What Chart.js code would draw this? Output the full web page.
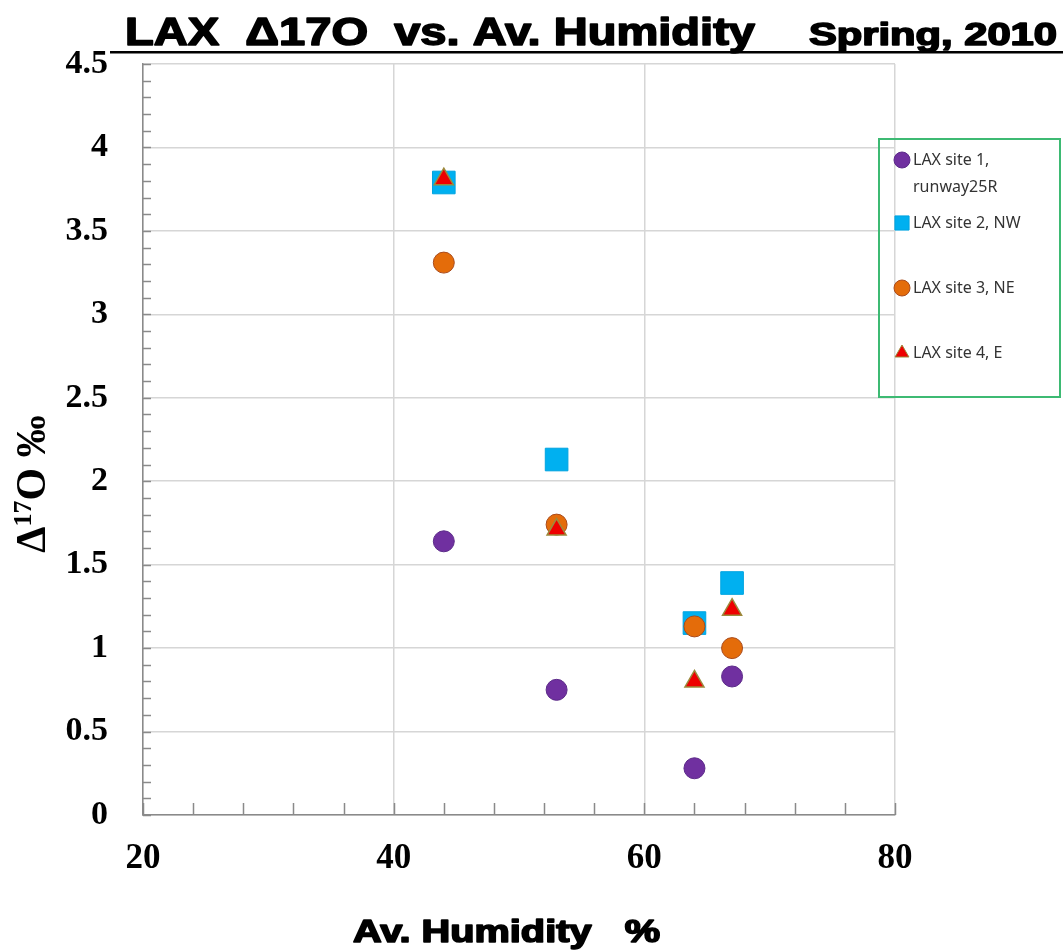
<!DOCTYPE html>
<html>
<head>
<meta charset="utf-8">
<script src="https://cdn.jsdelivr.net/npm/chart.js@4/dist/chart.umd.min.js"></script>
<style>
  body { margin: 0; background: #fff; }
  #wrap { width: 1063px; height: 950px; }
</style>
</head>
<body>
<div id="wrap"><canvas id="chart" width="1063" height="950"></canvas></div>
<script>
// humidity (%) for the four sampling dates
const humidity = [44, 53, 64, 67];

// Δ17O (‰) per site
const site1 = [1.64, 0.75, 0.28, 0.83];
const site2 = [3.79, 2.13, 1.15, 1.39];
const site3 = [3.31, 1.74, 1.13, 1.00];
const site4 = [3.81, 1.71, 0.80, 1.23];

const siteLabels = [
    ["LAX site 1,", "runway25R"],
    ["LAX site 2, NW"],
    ["LAX site 3, NE"],
    ["LAX site 4, E"]
];

const xTicks = [20, 40, 60, 80];
const yTicks = [0, 0.5, 1, 1.5, 2, 2.5, 3, 3.5, 4, 4.5];

const titleMain = "LAX  \u039417O  vs. Av. Humidity";
const titleSide = "Spring, 2010";
const xTitle = "Av. Humidity   %";

function toPoints(ys){
    return humidity.map((h, i) => ({x: h, y: ys[i]}));
}

// heavy text squeezed/stretched to a given width
function heavyText(ctx, text, x, y, size, width){
    ctx.save();
    ctx.font = "bold " + size + "px 'Liberation Sans'";
    const w = ctx.measureText(text).width;
    ctx.translate(x, y);
    ctx.scale(width / w, 1);
    ctx.lineWidth = 1.6;
    ctx.lineJoin = "round";
    ctx.strokeStyle = "#000";
    ctx.strokeText(text, 0, 0);
    ctx.fillText(text, 0, 0);
    ctx.restore();
}

// titles, minor ticks and the legend box
const decor = {
    id: "decor",
    afterDraw(chart){
        const ctx = chart.ctx;
        const xs = chart.scales.x;
        const ys = chart.scales.y;

        ctx.save();

        // minor ticks
        ctx.strokeStyle = "#8a8a8a";
        ctx.lineWidth = 1.5;
        for(let v = 0; v <= 4.5001; v += 0.1){
            const py = Math.round(ys.getPixelForValue(v)) + 0.5;
            ctx.beginPath();
            ctx.moveTo(xs.left, py);
            ctx.lineTo(xs.left + 8, py);
            ctx.stroke();
        }
        for(let v = 20; v <= 80; v += 4){
            const px = Math.round(xs.getPixelForValue(v)) + 0.5;
            ctx.beginPath();
            ctx.moveTo(px, ys.bottom);
            ctx.lineTo(px, ys.bottom - 12);
            ctx.stroke();
        }

        // chart title
        ctx.fillStyle = "#000";
        ctx.textBaseline = "alphabetic";
        ctx.textAlign = "left";
        heavyText(ctx, titleMain, 125, 45, 38, 630);
        heavyText(ctx, titleSide, 809, 45, 31, 248);
        ctx.fillRect(110, 51, 953, 2.5);

        // x title
        heavyText(ctx, xTitle, 353, 942, 31, 307);

        // y title with superscript
        ctx.save();
        ctx.translate(45, 484);
        ctx.rotate(-Math.PI / 2);
        ctx.textAlign = "left";
        ctx.textBaseline = "alphabetic";
        const big = "bold 42px 'Liberation Serif'";
        const small = "bold 26px 'Liberation Serif'";
        ctx.font = big;
        const wD = ctx.measureText("\u0394").width;
        ctx.font = small;
        const w17 = ctx.measureText("17").width;
        ctx.font = big;
        const wRest = ctx.measureText("O \u2030").width;
        let x0 = -(wD + w17 + wRest) / 2;
        ctx.fillText("\u0394", x0, 0);
        x0 += wD;
        ctx.font = small;
        ctx.fillText("17", x0, -14);
        x0 += w17;
        ctx.font = big;
        ctx.fillText("O \u2030", x0, 0);
        ctx.restore();

        // legend
        ctx.strokeStyle = "#3dba73";
        ctx.lineWidth = 2;
        ctx.strokeRect(879, 139, 181, 258);

        const rowY = [160, 223, 288, 353];
        ctx.font = "16px 'Noto Sans'";
        ctx.textBaseline = "middle";
        chart.data.datasets.forEach((ds, i) => {
            ctx.fillStyle = ds.backgroundColor;
            ctx.strokeStyle = ds.borderColor;
            ctx.lineWidth = 1;
            Chart.helpers.drawPoint(ctx, {
                pointStyle: ds.pointStyle,
                radius: ds.pointStyle === "rect" ? 10 : 8,
                rotation: 0,
                borderWidth: 1
            }, 902, rowY[i]);
            ctx.fillStyle = "#333";
            ds.legendLines.forEach((line, k) => {
                ctx.fillText(line, 913, rowY[i] + k * 27);
            });
        });

        ctx.restore();
    }
};

new Chart(document.getElementById("chart"), {

    type: "scatter",

    data: {
        datasets: [
            {
                label: siteLabels[0].join(" "),
                legendLines: siteLabels[0],
                data: toPoints(site1),
                pointStyle: "circle",
                backgroundColor: "#7030a0",
                borderColor: "#5b2a88",
                pointRadius: 10.5,
                borderWidth: 1,
                order: 4
            },
            {
                label: siteLabels[1].join(" "),
                legendLines: siteLabels[1],
                data: toPoints(site2),
                pointStyle: "rect",
                backgroundColor: "#00b0f0",
                borderColor: "#00a4e0",
                pointRadius: 16,
                borderWidth: 1,
                order: 3
            },
            {
                label: siteLabels[2].join(" "),
                legendLines: siteLabels[2],
                data: toPoints(site3),
                pointStyle: "circle",
                backgroundColor: "#e46c0a",
                borderColor: "#a94b1c",
                pointRadius: 10.5,
                borderWidth: 1,
                order: 2
            },
            {
                label: siteLabels[3].join(" "),
                legendLines: siteLabels[3],
                data: toPoints(site4),
                pointStyle: "triangle",
                backgroundColor: "#ee0000",
                borderColor: "#9c8a3c",
                pointRadius: 11,
                borderWidth: 1.5,
                order: 1
            }
        ]
    },

    options: {
        responsive: false,
        animation: false,
        layout: {
            padding: {left: 0, top: 64, right: 168, bottom: 0}
        },
        plugins: {
            legend: {display: false},
            tooltip: {enabled: false}
        },
        scales: {
            x: {
                type: "linear",
                min: 20,
                max: 80,
                afterBuildTicks: (scale) => {
                    scale.ticks = xTicks.map(v => ({value: v}));
                },
                afterFit: (scale) => { scale.height = 135; },
                ticks: {
                    padding: 23,
                    color: "#000",
                    font: {family: "'Liberation Serif'", size: 35, weight: "bold"},
                    callback: v => String(v)
                },
                grid: {
                    color: "#d6d6d6",
                    lineWidth: 1.5,
                    drawTicks: false
                },
                border: {color: "#8a8a8a", width: 1.5}
            },
            y: {
                min: 0,
                max: 4.5,
                afterBuildTicks: (scale) => {
                    scale.ticks = yTicks.map(v => ({value: v}));
                },
                afterFit: (scale) => { scale.width = 143; },
                ticks: {
                    padding: 35,
                    color: "#000",
                    font: {family: "'Liberation Serif'", size: 34, weight: "bold"},
                    callback: v => String(v)
                },
                grid: {
                    color: "#d6d6d6",
                    lineWidth: 1.5,
                    drawTicks: false
                },
                border: {color: "#8a8a8a", width: 1.5}
            }
        }
    },

    plugins: [decor]

});
</script>
</body>
</html>
